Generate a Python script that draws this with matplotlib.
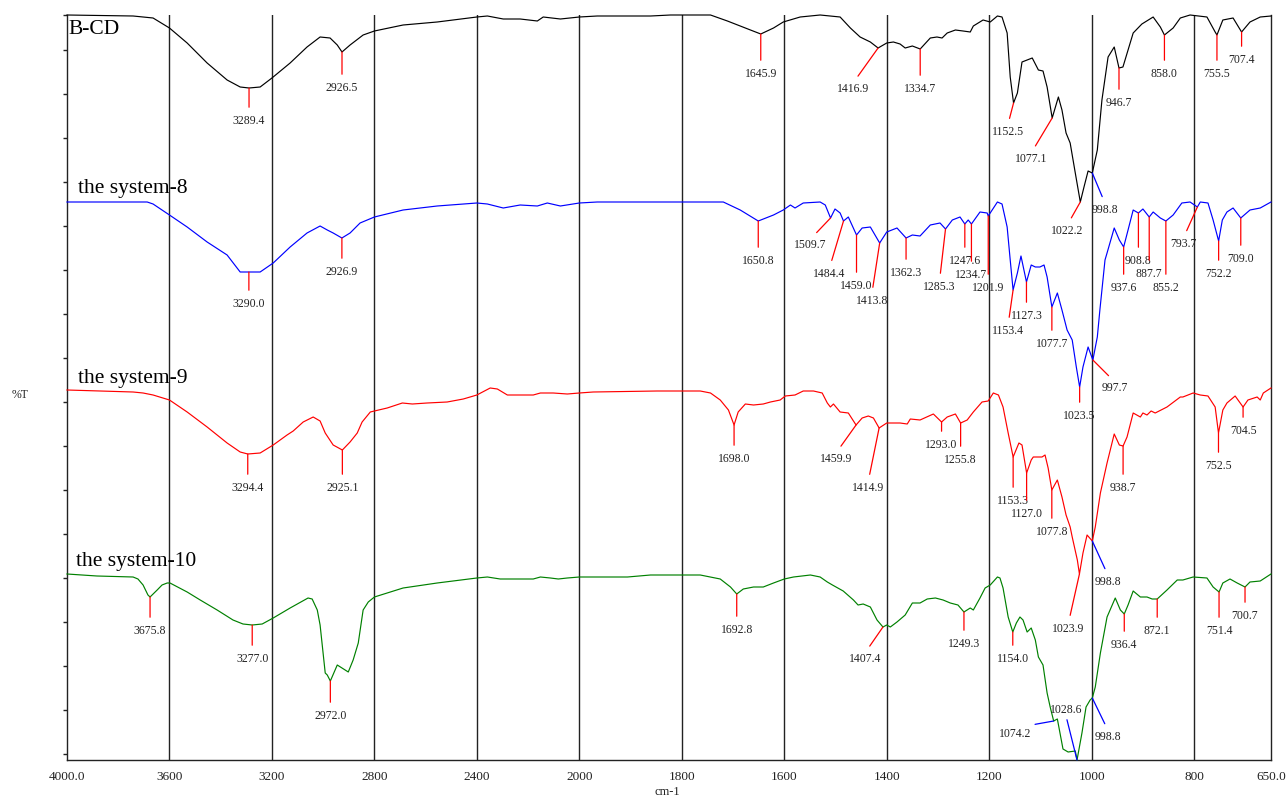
"""
FTIR spectra of B-CD and the systems 8, 9 and 10 (stacked, %T)
"""
import numpy as np
import matplotlib
matplotlib.use('Agg')
import matplotlib.pyplot as plt

# ---- spectra (wavenumber cm-1, %T on the stacked scale) ----
bcd_wn = [4000, 3742, 3664, 3600, 3531, 3453, 3375, 3324, 3289.4, 3246, 3200, 3129, 3063, 3012, 2973, 2945,
          2926.5, 2895, 2844, 2800, 2688, 2555, 2400, 2359, 2297, 2231, 2164, 2141, 2074, 2000, 1965, 1861,
          1822, 1744, 1711, 1666, 1645.9, 1621, 1602, 1569, 1530, 1491, 1471, 1452, 1432, 1416.9, 1400, 1387,
          1374, 1364, 1350, 1334.7, 1315, 1302, 1292, 1282, 1266, 1251, 1237, 1231, 1212, 1198, 1184, 1175,
          1165, 1159, 1152.5, 1145, 1136, 1126, 1116, 1104, 1095, 1087, 1077.1, 1065, 1058, 1050, 1042, 1032,
          1022.2, 1015, 1007, 998.8, 989, 980, 968, 956, 946.7, 939, 919, 902, 880, 866, 858.0, 841, 827, 808,
          775, 759, 755.5, 744, 724, 707.4, 691, 671, 650]
bcd_t = [745, 744, 742, 732, 717, 697, 680, 673, 672, 673, 682, 697, 713, 723, 722, 715,
         708, 715, 725, 729, 735, 738, 743, 744, 741, 741, 739, 743, 741, 743, 744, 744,
         745, 745, 739, 730, 726, 732, 738, 743, 745, 743, 732, 723, 718, 712, 717, 718,
         716, 712, 714, 711, 722, 723, 722, 727, 730, 729, 728, 734, 740, 738, 744, 743,
         727, 683, 657, 667, 698, 700, 702, 690, 689, 673, 642, 663, 650, 627, 617, 587,
         558, 573, 589, 587, 610, 660, 703, 713, 692, 693, 727, 736, 743, 733, 725, 732, 742, 745,
         743, 728, 725, 740, 742, 728, 738, 743, 744]

s8_wn = [4000, 3687, 3664, 3600, 3531, 3453, 3375, 3324, 3290.0, 3246, 3195, 3129, 3063, 3012, 2984, 2961,
         2926.9, 2895, 2856, 2800, 2688, 2555, 2400, 2359, 2297, 2231, 2164, 2125, 2074, 2000, 1965, 1797,
         1719, 1686, 1650.8, 1621, 1602, 1588, 1579, 1563, 1530, 1520, 1509.7, 1501, 1491, 1484.4, 1475,
         1459.0, 1448, 1432, 1413.8, 1400, 1380, 1362.3, 1350, 1335, 1315, 1296, 1285.3, 1272, 1257, 1247.6,
         1241, 1234.7, 1218, 1204, 1201.9, 1184, 1175, 1165, 1159, 1153.4, 1145, 1138, 1127.3, 1118, 1110,
         1101, 1093, 1087, 1077.7, 1067, 1058, 1048, 1038, 1030, 1023.5, 1017, 1007, 997.7, 989, 984, 974,
         970, 956, 946, 937.6, 929, 919, 908.8, 900, 887.7, 880, 866, 855.2, 841, 824, 808, 793.7, 788, 773,
         763, 752.2, 745, 736, 724, 709.0, 691, 671, 650]
s8_t = [558, 558, 556, 545, 533, 518, 505, 488, 488, 488, 497, 513, 527, 534, 530, 527,
        522, 527, 537, 543, 550, 554, 557, 556, 552, 555, 554, 557, 554, 557, 558, 558,
        558, 550, 539, 545, 550, 555, 552, 557, 558, 555, 542, 551, 547, 539, 543,
        525, 532, 533, 517, 528, 532, 522, 525, 524, 535, 537, 531, 540, 543, 536,
        540, 536, 548, 547, 544, 558, 556, 533, 500, 470, 487, 504, 478, 495, 493,
        493, 495, 483, 453, 467, 450, 430, 420, 393, 373, 393, 413, 400, 423, 450, 500,
        507, 532, 520, 513, 530, 550, 547, 551, 543, 548, 542, 539, 545, 557, 558, 553, 558, 557,
        540, 519, 540, 548, 552, 542, 550, 552, 558]

s9_wn = [4000, 3871, 3742, 3703, 3664, 3600, 3531, 3453, 3375, 3324, 3294.4, 3246, 3195, 3141, 3117, 3078,
         3039, 3012, 2992, 2961, 2925.1, 2895, 2867, 2848, 2816, 2800, 2750, 2691, 2652, 2594, 2516, 2453,
         2400, 2348, 2320, 2281, 2180, 2152, 2102, 2047, 2000, 1973, 1848, 1764, 1744, 1725, 1709, 1698.0,
         1690, 1676, 1660, 1641, 1627, 1608, 1598, 1579, 1563, 1543, 1526, 1516, 1510, 1504, 1491, 1475,
         1459.9, 1448, 1436, 1426, 1414.9, 1400, 1374, 1360, 1354, 1335, 1309, 1293.0, 1282, 1266, 1255.8,
         1243, 1231, 1214, 1202, 1192, 1182, 1173, 1163, 1153.3, 1142, 1136, 1127.0, 1118, 1114, 1097, 1091,
         1085, 1077.8, 1067, 1058, 1050, 1042, 1038, 1028, 1023.9, 1017, 1009, 998.8, 993, 983, 970, 956,
         946, 938.7, 931, 919, 905, 900, 892, 884, 876, 853, 827, 822, 802, 788, 773, 759, 752.5, 744, 736,
         720, 710, 704.5, 695, 677, 671, 665, 650]
s9_t = [370, 369, 368, 367, 365, 360, 348, 333, 317, 308, 306, 307, 315, 325, 329, 338,
        343, 339, 327, 315, 310, 318, 327, 338, 348, 349, 352, 357, 356, 357, 358, 361,
        365, 372, 371, 365, 365, 367, 367, 366, 367, 368, 369, 369, 367, 360, 350, 335,
        348, 356, 355, 356, 358, 360, 364, 365, 369, 369, 367, 357, 353, 356, 348, 347,
        335, 342, 344, 342, 332, 337, 337, 336, 341, 340, 346, 338, 343, 346, 337,
        340, 348, 358, 359, 367, 365, 353, 327, 303, 317, 315, 287, 300, 303, 303, 305,
        292, 270, 280, 263, 245, 233, 223, 200, 186, 207, 225, 219, 233, 267, 297, 326,
        315, 314, 323, 347, 343, 347, 345, 349, 347, 353, 363, 363, 367, 365, 364, 353, 327, 350, 357,
        364, 357, 353, 360, 363, 360, 367, 372]

s10_wn = [4000, 3883, 3742, 3723, 3703, 3684, 3675.8, 3648, 3629, 3609, 3598, 3531, 3480, 3414, 3352, 3313,
          3277.0, 3238, 3195, 3129, 3059, 3043, 3023, 3012, 2992, 2984, 2972.0, 2945, 2902, 2883, 2863, 2844,
          2824, 2800, 2750, 2688, 2555, 2400, 2359, 2309, 2180, 2152, 2113, 2082, 2047, 2000, 1906, 1861,
          1764, 1725, 1705, 1692.8, 1680, 1660, 1641, 1621, 1600, 1582, 1549, 1530, 1516, 1506, 1485, 1465,
          1456, 1446, 1432, 1419, 1407.4, 1400, 1393, 1380, 1364, 1350, 1335, 1321, 1305, 1290, 1276, 1261,
          1249.3, 1237, 1231, 1218, 1208, 1198, 1184, 1179, 1173, 1163, 1154.0, 1147, 1140, 1134, 1126, 1118,
          1110, 1104, 1095, 1087, 1081, 1074.2, 1067, 1063, 1056, 1046, 1032, 1028.6, 1019, 1011, 1003,
          998.8, 993, 983, 970, 954, 944, 936.4, 929, 919, 905, 892, 882, 872.1, 853, 833, 822, 802, 775,
          763, 751.4, 744, 730, 716, 700.7, 691, 671, 650]
s10_t = [186, 184, 183, 181, 175, 165, 163, 170, 175, 177, 177, 168, 160, 150, 140, 136,
         135, 136, 142, 152, 162, 161, 150, 135, 87, 85, 79, 95, 88, 100, 117, 150,
         158, 163, 167, 172, 177, 182, 183, 181, 181, 183, 182, 181, 182, 183, 183, 185,
         185, 181, 173, 166, 171, 173, 173, 177, 181, 183, 185, 183, 178, 175, 169, 160,
         155, 156, 153, 140, 133, 135, 133, 138, 145, 157, 157, 161, 162, 160, 157, 155,
         148, 152, 150, 162, 172, 175, 183, 182, 172, 143, 128, 137, 143, 140, 128, 132,
         120, 103, 95, 67, 53, 39, 41, 30, 11, 8, 9, 0, 27, 53, 60,
         62, 73, 107, 143, 162, 150, 146, 155, 169, 163, 163, 161, 161, 170, 180, 180, 183, 182,
         173, 168, 177, 181, 177, 173, 178, 179, 186]

# ---- labelled peaks ----
bcd_peaks = [3289.4, 2926.5, 1645.9, 1416.9, 1334.7, 1152.5, 1077.1, 1022.2, 998.8, 946.7, 858.0, 755.5, 707.4]
s8_peaks = [3290.0, 2926.9, 1650.8, 1509.7, 1484.4, 1459.0, 1413.8, 1362.3, 1285.3, 1247.6, 1234.7, 1201.9,
            1153.4, 1127.3, 1077.7, 1023.5, 997.7, 937.6, 908.8, 887.7, 855.2, 793.7, 752.2, 709.0]
s9_peaks = [3294.4, 2925.1, 1698.0, 1459.9, 1414.9, 1293.0, 1255.8, 1153.3, 1127.0, 1077.8, 1023.9, 998.8,
            938.7, 752.5, 704.5]
s10_peaks = [3675.8, 3277.0, 2972.0, 1692.8, 1407.4, 1249.3, 1154.0, 1074.2, 1028.6, 998.8, 936.4, 872.1,
             751.4, 700.7]

names = ['B-CD', 'the system-8', 'the system-9', 'the system-10']
tick_values = [4000, 3600, 3200, 2800, 2400, 2000, 1800, 1600, 1400, 1200, 1000, 800, 650]
tick_labels = ['4000.0', '3600', '3200', '2800', '2400', '2000', '1800', '1600', '1400', '1200', '1000',
               '800', '650.0']

# ---- layout (pixels) ----
# end of each peak marker line, relative to the peak
bcd_offsets = [(0, -22), (0, -25), (0, -29), (-25, -30), (0, -29), (-6, -18), (-21, -30), (-13, -18),
               (13, -26), (0, -24), (0, -28), (0, -28), (0, -17)]
s8_offsets = [(0, -21), (0, -23), (0, -29), (-20, -16), (-14, -42), (0, -40), (-8, -47), (0, -24),
              (-6, -47), (0, -26), (0, -40), (0, -61), (-5, -30), (0, -23), (0, -26), (0, -18), (22, -17),
              (0, -30), (0, -37), (0, -46), (0, -56), (-14, -26), (0, -22), (0, -30)]
s9_offsets = [(0, -23), (0, -27), (0, -23), (-20, -23), (-11, -49), (0, -12), (0, -26), (0, -33), (0, -30),
              (0, -31), (-11, -44), (16, -30), (0, -31), (0, -22), (0, -13)]
s10_offsets = [(0, -23), (0, -23), (0, -24), (0, -25), (-18, -21), (0, -21), (0, -16), (-39, -2), (-11, 43),
               (16, -28), (0, -20), (0, -21), (0, -28), (0, -18)]
blue_marks = {(0, 998.8), (2, 998.8), (3, 1074.2), (3, 1028.6), (3, 998.8)}
name_pos = [(68, 34), (78, 193), (78, 383), (76, 566)]
colors = ['black', '#0000ff', '#ff0000', '#008000']

W, H = 1288, 798
SERIF = 'Liberation Serif'


def forward(x):
    # wavenumbers above 2000 are drawn at half scale
    x = np.asarray(x, dtype=float)
    return np.where(x > 2000, 2000 + (x - 2000) / 2, x)


def inverse(u):
    u = np.asarray(u, dtype=float)
    return np.where(u > 2000, 2000 + (u - 2000) * 2, u)


fig = plt.figure(figsize=(W / 100, H / 100), dpi=100, facecolor='white')
ax = fig.add_axes([67 / W, 38 / H, 1204 / W, 745 / H])
ax.set_xscale('function', functions=(forward, inverse))
ax.set_xlim(4000, 650)
ax.set_ylim(0, 745)

# vertical grid
for g in tick_values[1:-1]:
    ax.axvline(g, color='#222222', lw=1.0, zorder=0)

series = [(bcd_wn, bcd_t, bcd_peaks, bcd_offsets),
          (s8_wn, s8_t, s8_peaks, s8_offsets),
          (s9_wn, s9_t, s9_peaks, s9_offsets),
          (s10_wn, s10_t, s10_peaks, s10_offsets)]

gap = 5
for i, (wn, t, peaks, offs) in enumerate(series):
    ax.plot(wn, t, color=colors[i], lw=0.85, zorder=3, clip_on=False,
            solid_joinstyle='round')
    wn_a = np.array(wn)[::-1]
    t_a = np.array(t)[::-1]
    for p, (dx, dy) in zip(peaks, offs):
        py = np.interp(p, wn_a, t_a)
        lc = '#0000ff' if (i, p) in blue_marks else '#ff0000'
        if dy > 0:
            xt, va, rel = (dx, dy + 1), 'bottom', (0.5, 0)
        else:
            xt, va, rel = (dx, dy - gap), 'top', (0.5, 1)
        ax.annotate(f'{p:.1f}', xy=(p, py), xytext=xt, textcoords='offset pixels',
                    ha='center', va=va, fontsize=8.5, family=SERIF, color='#222222',
                    annotation_clip=False, zorder=4,
                    arrowprops=dict(arrowstyle='-', color=lc, lw=0.9,
                                    shrinkA=(gap if dy < 0 else 1) * 0.72, shrinkB=0,
                                    relpos=rel))
    fig.text(name_pos[i][0] / W, 1 - name_pos[i][1] / H, names[i], fontsize=15.5,
             family=SERIF, color='black', ha='left', va='baseline')

# axes styling
ax.spines['top'].set_visible(False)
for s in ['left', 'right', 'bottom']:
    ax.spines[s].set_color('#222222')
    ax.spines[s].set_linewidth(1.0)

ax.set_xticks(tick_values)
ax.set_xticklabels(tick_labels, fontsize=9.5, family=SERIF, color='#222222')
ax.xaxis.set_minor_locator(matplotlib.ticker.NullLocator())
ax.tick_params(axis='x', length=0, pad=8)

ax.set_yticks([6 + 44 * k for k in range(17)] + [745])
ax.tick_params(axis='y', direction='out', length=3, width=1, color='#222222', labelleft=False)

fig.text(20 / W, 1 - 395 / H, '%T', fontsize=8.5, family=SERIF, color='#222222',
         ha='center', va='center')
fig.text(667 / W, 1 - 792 / H, 'cm-1', fontsize=9, family=SERIF, color='#222222',
         ha='center', va='center')

fig.savefig('out.png', dpi=100, facecolor='white')
plt.close(fig)
